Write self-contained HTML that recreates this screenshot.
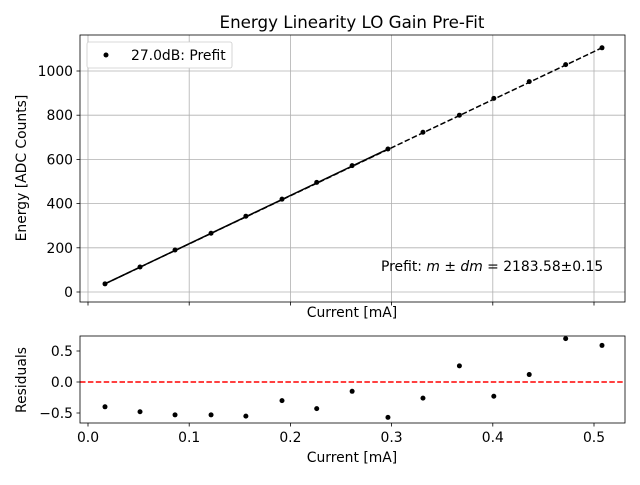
<!DOCTYPE html>
<html><head><meta charset="utf-8"><style>
body{margin:0;background:#fff}
svg text{font-family:"DejaVu Sans","Liberation Sans",sans-serif;fill:#000}
</style></head><body>
<svg id="c" width="640" height="480" xmlns="http://www.w3.org/2000/svg"></svg>
<script>
const currents=[0.0168,0.0514,0.086,0.1216,0.156,0.1917,0.226,0.261,0.2964,0.331,0.367,0.401,0.436,0.472,0.5079];
const energies=[37,113,190,266,343,420,496,572,647,723,800,876,952,1029,1105];
const residuals=[-0.4,-0.48,-0.53,-0.53,-0.55,-0.3,-0.43,-0.15,-0.57,-0.26,0.26,-0.23,0.12,0.70,0.59];
const xTicks=[0,0.1,0.2,0.3,0.4,0.5];
const xTickLabels=["0.0","0.1","0.2","0.3","0.4","0.5"];
const yTicks=[0,200,400,600,800,1000];
const rTicks=[0.5,0,-0.5];
const rTickLabels=["0.5","0.0","−0.5"];
const fitCount=9;

const svg=document.getElementById('c');
const NS='http://www.w3.org/2000/svg';
function mk(t,a,p){const e=document.createElementNS(NS,t);for(const k in a)e.setAttribute(k,a[k]);(p||svg).appendChild(e);return e;}
const L=80,R=625,T=35,B=302,RT=336,RB=423;
const FS=13.9;
const xS=v=>88+v*1012;
const yS=v=>292-v*0.221;
const rS=v=>382-v*62;

xTicks.forEach(t=>{mk('line',{x1:xS(t),x2:xS(t),y1:T,y2:B,stroke:'#b0b0b0','stroke-width':0.8});});
yTicks.forEach(t=>{mk('line',{x1:L,x2:R,y1:yS(t),y2:yS(t),stroke:'#b0b0b0','stroke-width':0.8});});
const fl=mk('line',{x1:xS(currents[0]),y1:yS(energies[0]),x2:xS(currents[currents.length-1]),y2:yS(energies[energies.length-1]),stroke:'#000','stroke-width':1.5,'stroke-dasharray':'5.5,2.4'});


const fs=mk('line',{x1:xS(currents[0]),y1:yS(energies[0]),x2:xS(currents[fitCount-1]),y2:yS(energies[fitCount-1]),stroke:'#000','stroke-width':1.5});


currents.forEach((c,i)=>{
 const p=mk('circle',{cx:xS(c),cy:yS(energies[i]),r:2.5,fill:'#000'});
 
 
 const q=mk('circle',{cx:xS(c),cy:rS(residuals[i]),r:2.5,fill:'#000'});
 
 
});
mk('line',{x1:L,x2:R,y1:rS(0),y2:rS(0),stroke:'#ff0000','stroke-width':1.5,'stroke-dasharray':'5.5,2.4'});
mk('rect',{x:L,y:T,width:R-L,height:B-T,fill:'none',stroke:'#000','stroke-width':0.8});
mk('rect',{x:L,y:RT,width:R-L,height:RB-RT,fill:'none',stroke:'#000','stroke-width':0.8});
xTicks.forEach((t,i)=>{
 mk('line',{x1:xS(t),x2:xS(t),y1:B,y2:B+3.5,stroke:'#000','stroke-width':0.8});
 mk('line',{x1:xS(t),x2:xS(t),y1:RB,y2:RB+3.5,stroke:'#000','stroke-width':0.8});
 const tx=mk('text',{x:xS(t),y:RB+19,'font-size':FS,'text-anchor':'middle'});tx.textContent=xTickLabels[i];
});
yTicks.forEach(t=>{
 mk('line',{x1:L-3.5,x2:L,y1:yS(t),y2:yS(t),stroke:'#000','stroke-width':0.8});
 const tx=mk('text',{x:L-7,y:yS(t)+5,'font-size':FS,'text-anchor':'end'});tx.textContent=t;
});
rTicks.forEach((t,i)=>{
 mk('line',{x1:L-3.5,x2:L,y1:rS(t),y2:rS(t),stroke:'#000','stroke-width':0.8});
 const tx=mk('text',{x:L-7,y:rS(t)+5,'font-size':FS,'text-anchor':'end'});tx.textContent=rTickLabels[i];
});
let t=mk('text',{x:352,y:28,'font-size':16.7,'text-anchor':'middle'});t.textContent='Energy Linearity LO Gain Pre-Fit';

t=mk('text',{x:352,y:317,'font-size':FS,'text-anchor':'middle'});t.textContent='Current [mA]';

t=mk('text',{x:352,y:462,'font-size':FS,'text-anchor':'middle'});t.textContent='Current [mA]';

t=mk('text',{x:0,y:0,'font-size':FS,'text-anchor':'middle',transform:'translate(26,168) rotate(-90)'});t.textContent='Energy [ADC Counts]';

t=mk('text',{x:0,y:0,'font-size':FS,'text-anchor':'middle',transform:'translate(26,380) rotate(-90)'});t.textContent='Residuals';

t=mk('text',{x:381,y:271,'font-size':FS});t.innerHTML='Prefit: <tspan font-style="italic">m</tspan> ± <tspan font-style="italic">dm</tspan> = 2183.58±0.15';

const g=mk('g',{});

mk('rect',{x:87,y:42,width:145,height:26,rx:2,fill:'#fff',stroke:'#ccc','stroke-width':0.8},g);
mk('circle',{cx:106,cy:55,r:2.5,fill:'#000'},g);
t=mk('text',{x:131,y:60,'font-size':FS},g);t.textContent='27.0dB: Prefit';
</script>
</body></html>
